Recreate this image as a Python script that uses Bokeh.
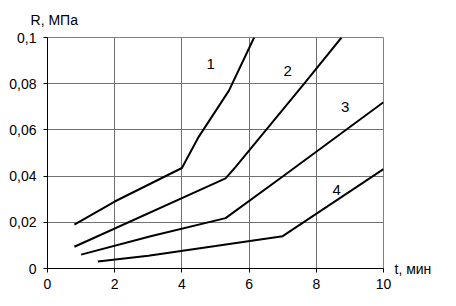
from bokeh.plotting import figure
from bokeh.models import FixedTicker, CustomJSTickFormatter, Label, Range1d, LinearAxis
from bokeh.embed import file_html
from bokeh.resources import INLINE

# Data (t in min, R in MPa)
t1 = [0.8, 2.0, 4.0, 4.5, 5.4, 6.15]
r1 = [0.019, 0.029, 0.0435, 0.057, 0.077, 0.1]
t2 = [0.8, 5.3, 5.6, 7.64, 8.75]
r2 = [0.0094, 0.039, 0.044, 0.08, 0.1]
t3 = [1.0, 3.07, 5.3, 7.0, 10.0]
r3 = [0.006, 0.014, 0.0218, 0.0398, 0.072]
t4 = [1.5, 3.0, 5.0, 7.0, 10.0]
r4 = [0.003, 0.0055, 0.0097, 0.014, 0.043]

curve_labels = ["1", "2", "3", "4"]
label_t = [4.86, 7.15, 8.86, 8.61]
label_r = [0.0886, 0.0854, 0.0698, 0.0339]

x_ticks = [0, 2, 4, 6, 8, 10]
y_ticks = [0, 0.02, 0.04, 0.06, 0.08, 0.1]
y_title = "R, МПа"
x_title = "t, мин"

FONT = "Liberation Sans"

p = figure(width=456, height=306, output_backend="svg", toolbar_location=None,
           x_range=Range1d(0, 10), y_range=Range1d(0, 0.1))
p.min_border_left = 47
p.min_border_right = 73
p.min_border_top = 37
p.min_border_bottom = 38
p.background_fill_color = "white"
p.border_fill_color = "white"
p.outline_line_color = "#808080"
p.outline_line_width = 1

p.xaxis.ticker = FixedTicker(ticks=x_ticks)
p.yaxis.ticker = FixedTicker(ticks=y_ticks)
p.yaxis.formatter = CustomJSTickFormatter(code="""
if (tick == 0) return "0";
return (Math.round(tick*100)/100).toString().replace(".", ",");
""")
for ax in (p.xaxis, p.yaxis):
    ax.axis_line_color = "black"
    ax.axis_line_width = 1
    ax.major_tick_line_color = "black"
    ax.major_tick_out = 4
    ax.major_tick_in = 0
    ax.minor_tick_line_color = None
    ax.major_label_text_font = FONT
    ax.major_label_text_font_size = "14px"
    ax.major_label_text_color = "black"
p.yaxis.major_label_standoff = 7
p.xaxis.major_label_standoff = 6

# axis titles placed as single tick labels of extra, line-less axes
def title_axis(tick, text, standoff):
    ax = LinearAxis(ticker=FixedTicker(ticks=[tick]),
                    formatter=CustomJSTickFormatter(code='return "%s";' % text))
    ax.axis_line_color = None
    ax.major_tick_line_color = None
    ax.minor_tick_line_color = None
    ax.major_tick_out = 0
    ax.major_tick_in = 0
    ax.major_label_standoff = standoff
    ax.major_label_text_font = FONT
    ax.major_label_text_font_size = "14px"
    ax.major_label_text_color = "black"
    return ax

p.add_layout(title_axis(0.2, y_title, 10), "above")
p.add_layout(title_axis(0.0, x_title, 11), "right")

p.xgrid.ticker = FixedTicker(ticks=x_ticks)
p.ygrid.ticker = FixedTicker(ticks=y_ticks)
p.grid.grid_line_color = "#707070"
p.grid.grid_line_width = 1

for t, r in ((t1, r1), (t2, r2), (t3, r3), (t4, r4)):
    p.line(t, r, line_color="black", line_width=2)

for s, x, y in zip(curve_labels, label_t, label_r):
    p.add_layout(Label(x=x, y=y, text=s, text_align="center", text_baseline="middle",
                       text_font=FONT, text_font_size="15px", text_color="black"))

open("out.html", "w").write(file_html(p, INLINE))
